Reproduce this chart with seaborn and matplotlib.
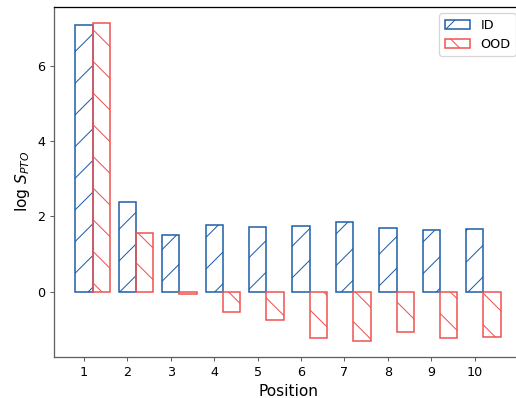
import matplotlib
matplotlib.use('Agg')
import matplotlib.pyplot as plt
from matplotlib.patches import Patch
import seaborn as sns
import pandas as pd

# values
positions = [1, 2, 3, 4, 5, 6, 7, 8, 9, 10]
id_vals = [7.10, 2.38, 1.50, 1.77, 1.71, 1.75, 1.85, 1.69, 1.63, 1.66]
ood_vals = [7.15, 1.57, -0.07, -0.55, -0.76, -1.23, -1.31, -1.07, -1.23, -1.20]
groups = ['ID', 'OOD']

blue = '#1f5fa8'
red = '#ef5350'

DPI = 95
S = 0.97

plt.rcParams.update({
    'font.family': 'DejaVu Sans',
    'font.size': 10 * S,
    'axes.linewidth': 1.0 * S,
    'axes.labelpad': 4 * S,
    'xtick.major.size': 3.5 * S,
    'ytick.major.size': 3.5 * S,
    'xtick.major.width': 0.8 * S,
    'ytick.major.width': 0.8 * S,
    'xtick.major.pad': 3.5 * S,
    'ytick.major.pad': 3.5 * S,
    'hatch.linewidth': 0.8 * S,
    'legend.fontsize': 10 * S,
    'patch.linewidth': 1.0 * S,
})

bar_w = 0.4
df = pd.DataFrame({
    'pos': [p for p in positions] + [p + bar_w for p in positions],
    'value': id_vals + ood_vals,
    'group': ['ID'] * len(positions) + ['OOD'] * len(positions),
})

fig = plt.figure(figsize=(516 / DPI, 398 / DPI), dpi=DPI)
ax = fig.add_axes([0.1047, 0.1038, 0.907, 0.8786])

sns.barplot(data=df, x='pos', y='value', hue='group', hue_order=groups,
            palette=[blue, red], native_scale=True, dodge=False, width=1.0,
            fill=False, errorbar=None, linewidth=1.2 * S, ax=ax, legend=False)

for cont, h, c in zip(ax.containers, ['/', '\\'], [blue, red]):
    for bar in cont:
        bar.set_hatch(h)
        bar.set_edgecolor(c)
        bar.set_facecolor('none')

ax.margins(x=0.05, y=0.05)
ax.autoscale_view()
ax.set_xticks(positions)
ax.set_xticklabels([str(p) for p in positions])
ax.set_xlabel('Position', fontsize=12 * S)
ax.set_ylabel(r'log $S_{PTO}$', fontsize=12 * S)

for side in ['left', 'bottom']:
    ax.spines[side].set_color('#606060')
ax.tick_params(color='#606060')

handles = [Patch(facecolor='none', edgecolor=blue, hatch='/', linewidth=1.2 * S),
           Patch(facecolor='none', edgecolor=red, hatch='\\', linewidth=1.2 * S)]
ax.legend(handles=handles, labels=groups, loc='upper right')

fig.savefig('out.png', dpi=DPI)
